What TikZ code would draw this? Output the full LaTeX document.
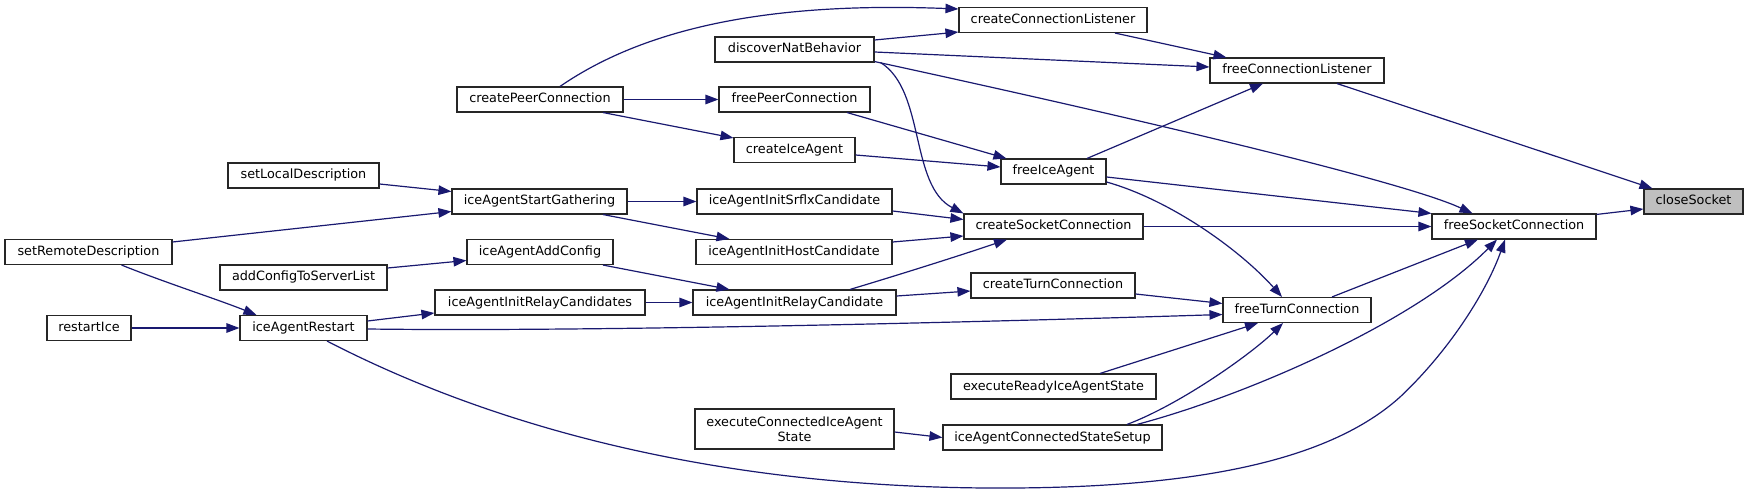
\documentclass[tikz,border=0pt]{standalone}
\usepackage{fontspec}
\setmainfont{DejaVu Sans}
\usetikzlibrary{arrows.meta,calc}
\definecolor{edgec}{RGB}{25,25,112}
\definecolor{nodegray}{RGB}{191,191,191}
\begin{document}
\begin{tikzpicture}[x=1pt,y=-1pt,
  box/.style={draw=black!85, line width=1.1pt, fill=white, minimum height=25pt, inner sep=0pt,
    font=\fontsize{12.8}{15}\selectfont, text height=9.5pt, text depth=2.5pt},
  edge/.style={draw=edgec, line width=1.2pt, -{Triangle[length=13pt,width=9.5pt]}}]
\fill[white] (0,0) rectangle (1748,494);
\useasboundingbox (0,0) rectangle (1748,494);
% nodes
\node[box, minimum width=99pt, fill=nodegray] (cs) at (1693.5,201.5) {closeSocket};
\node[box, minimum width=164pt] (fsc) at (1514,226.5) {freeSocketConnection};
\node[box, minimum width=174pt] (fcl) at (1297,70.5) {freeConnectionListener};
\node[box, minimum width=148pt] (ftc) at (1297,310) {freeTurnConnection};
\node[box, minimum width=188pt] (ccl) at (1053,20) {createConnectionListener};
\node[box, minimum width=105pt] (fia) at (1053.5,171.5) {freeIceAgent};
\node[box, minimum width=179pt] (csc) at (1053.5,226.5) {createSocketConnection};
\node[box, minimum width=164pt] (ctc) at (1053,285.5) {createTurnConnection};
\node[box, minimum width=205pt] (eria) at (1053.5,386.5) {executeReadyIceAgentState};
\node[box, minimum width=219pt] (iacss) at (1052.5,437.5) {iceAgentConnectedStateSetup};
\node[box, minimum width=159pt] (dnb) at (794.5,49.5) {discoverNatBehavior};
\node[box, minimum width=151pt] (fpc) at (794.5,99.5) {freePeerConnection};
\node[box, minimum width=121pt] (cia) at (794.5,150) {createIceAgent};
\node[box, minimum width=195pt] (srflx) at (794.5,201.5) {iceAgentInitSrflxCandidate};
\node[box, minimum width=196pt] (host) at (794,252) {iceAgentInitHostCandidate};
\node[box, minimum width=203pt] (relay) at (794.5,302.5) {iceAgentInitRelayCandidate};
\node[box, minimum width=199pt, minimum height=40pt, text height=, text depth=, align=center] (ecias) at (794.5,429) {executeConnectedIceAgent\\State};
\node[box, minimum width=166pt] (cpc) at (540,99.5) {createPeerConnection};
\node[box, minimum width=175pt] (iasg) at (539.5,201.5) {iceAgentStartGathering};
\node[box, minimum width=146pt] (iaac) at (540,252) {iceAgentAddConfig};
\node[box, minimum width=210pt] (iairc) at (540,302.5) {iceAgentInitRelayCandidates};
\node[box, minimum width=151pt] (sld) at (303.5,175.5) {setLocalDescription};
\node[box, minimum width=167pt] (srd) at (88.5,252) {setRemoteDescription};
\node[box, minimum width=167pt] (actsl) at (303.5,277.5) {addConfigToServerList};
\node[box, minimum width=127pt] (iar) at (303.5,328) {iceAgentRestart};
\node[box, minimum width=84pt] (ri) at (89,328) {restartIce};
% edges
\draw[edge] ($(cpc.north)+(20,0)$) .. controls +(90,-62) and +(-179,-7) .. ($(ccl.west)+(0,-11)$);
\draw[edge] ($(dnb.east)+(0,-9.5)$) -- ($(ccl.south west)+(0,-1)$);
\draw[edge] ($(dnb.east)+(0,2.5)$) -- ($(fcl.west)+(0,-3.5)$);
\draw[edge] ($(dnb.south east)+(0,-1)$) .. controls +(226,49) and +(-73,-34) .. ($(fsc.north west)+(41,0)$);
\draw[edge] ($(dnb.south east)+(6,0)$) .. controls +(45,28) and +(-54,-28) .. (csc.north west);
\draw[edge] ($(ccl.south)+(62,0)$) -- ($(fcl.north west)+(17,0)$);
\draw[edge] ($(fcl.south)+(40,0)$) -- ($(cs.north west)+(9,0)$);
\draw[edge] (cpc.east) -- (fpc.west);
\draw[edge] ($(cpc.south)+(63,0)$) -- ($(cia.north west)+(0,1)$);
\draw[edge] ($(fpc.south)+(52.5,0)$) -- ($(fia.north west)+(6,0)$);
\draw[edge] ($(cia.east)+(0,5)$) -- ($(fia.west)+(0,-4.5)$);
\draw[edge] ($(fia.north)+(33.5,0)$) -- ($(fcl.south)+(-34,0)$);
\draw[edge] ($(fia.east)+(0,5.5)$) -- (fsc.north west);
\draw[edge] ($(fia.east)+(0,10.5)$) .. controls +(64,18) and +(-42,-47) .. ($(ftc.north)+(-15,0)$);
\draw[edge] ($(sld.east)+(0,8.5)$) -- ($(iasg.west)+(0,-10)$);
\draw[edge] ($(srd.east)+(0,-10)$) -- ($(iasg.west)+(0,10)$);
\draw[edge] ($(srd.south)+(33,0)$) .. controls +(45,18) and +(-40,-16) .. ($(iar.north west)+(17,0)$);
\draw[edge] (iasg.east) -- (srflx.west);
\draw[edge] ($(iasg.south)+(63.5,0)$) -- ($(host.north west)+(34,0)$);
\draw[edge] ($(actsl.east)+(0,-9.5)$) -- ($(iaac.west)+(0,8.5)$);
\draw[edge] ($(iaac.south)+(63,0)$) -- ($(relay.north west)+(37,0)$);
\draw[edge] (ri.east) -- (iar.west);
\draw[edge] ($(iar.east)+(0,-7)$) -- ($(iairc.west)+(0,10.5)$);
\draw[edge] ($(iar.east)+(0,1)$) .. controls +(233,3) and +(-223,7) .. ($(ftc.west)+(0,4.5)$);
\draw[edge] ($(iar.south)+(23.5,0)$) .. controls +(153,79) and +(-300,0) .. ++(673,147)
   .. controls +(200,0) and +(-70,63) .. ++(400,-91)
   .. controls +(50,-47) and +(-18,51) .. ($(fsc.south)+(-9,0)$);
\draw[edge] (iairc.east) -- (relay.west);
\draw[edge] ($(srflx.east)+(0,9.5)$) -- ($(csc.west)+(0,-7)$);
\draw[edge] ($(host.east)+(0,-10)$) -- ($(csc.west)+(0,9.5)$);
\draw[edge] ($(relay.north)+(55.5,0)$) .. controls +(50,-15) and +(-47,16) .. ($(csc.south)+(-46.5,0)$);
\draw[edge] ($(relay.east)+(0,-6.5)$) -- ($(ctc.west)+(0,5.5)$);
\draw[edge] (csc.east) -- (fsc.west);
\draw[edge] ($(ctc.east)+(0,8.5)$) -- ($(ftc.west)+(0,-6.5)$);
\draw[edge] ($(ftc.north)+(35,0)$) -- ($(fsc.south)+(-36,0)$);
\draw[edge] ($(eria.north)+(46.5,0)$) -- ($(ftc.south)+(-39,0)$);
\draw[edge] ($(iacss.north)+(74.5,0)$) .. controls +(53,-20) and +(-33,32) .. ($(ftc.south)+(-14,0)$);
\draw[edge] ($(iacss.north)+(84.5,0)$) .. controls +(113,-30) and +(-80,81) .. ($(fsc.south)+(-17,0)$);
\draw[edge] ($(ecias.east)+(0,3)$) -- ($(iacss.west)+(0,0)$);
\draw[edge] ($(fsc.north east)+(0,1)$) -- ($(cs.west)+(0,7.5)$);
\end{tikzpicture}
\end{document}
